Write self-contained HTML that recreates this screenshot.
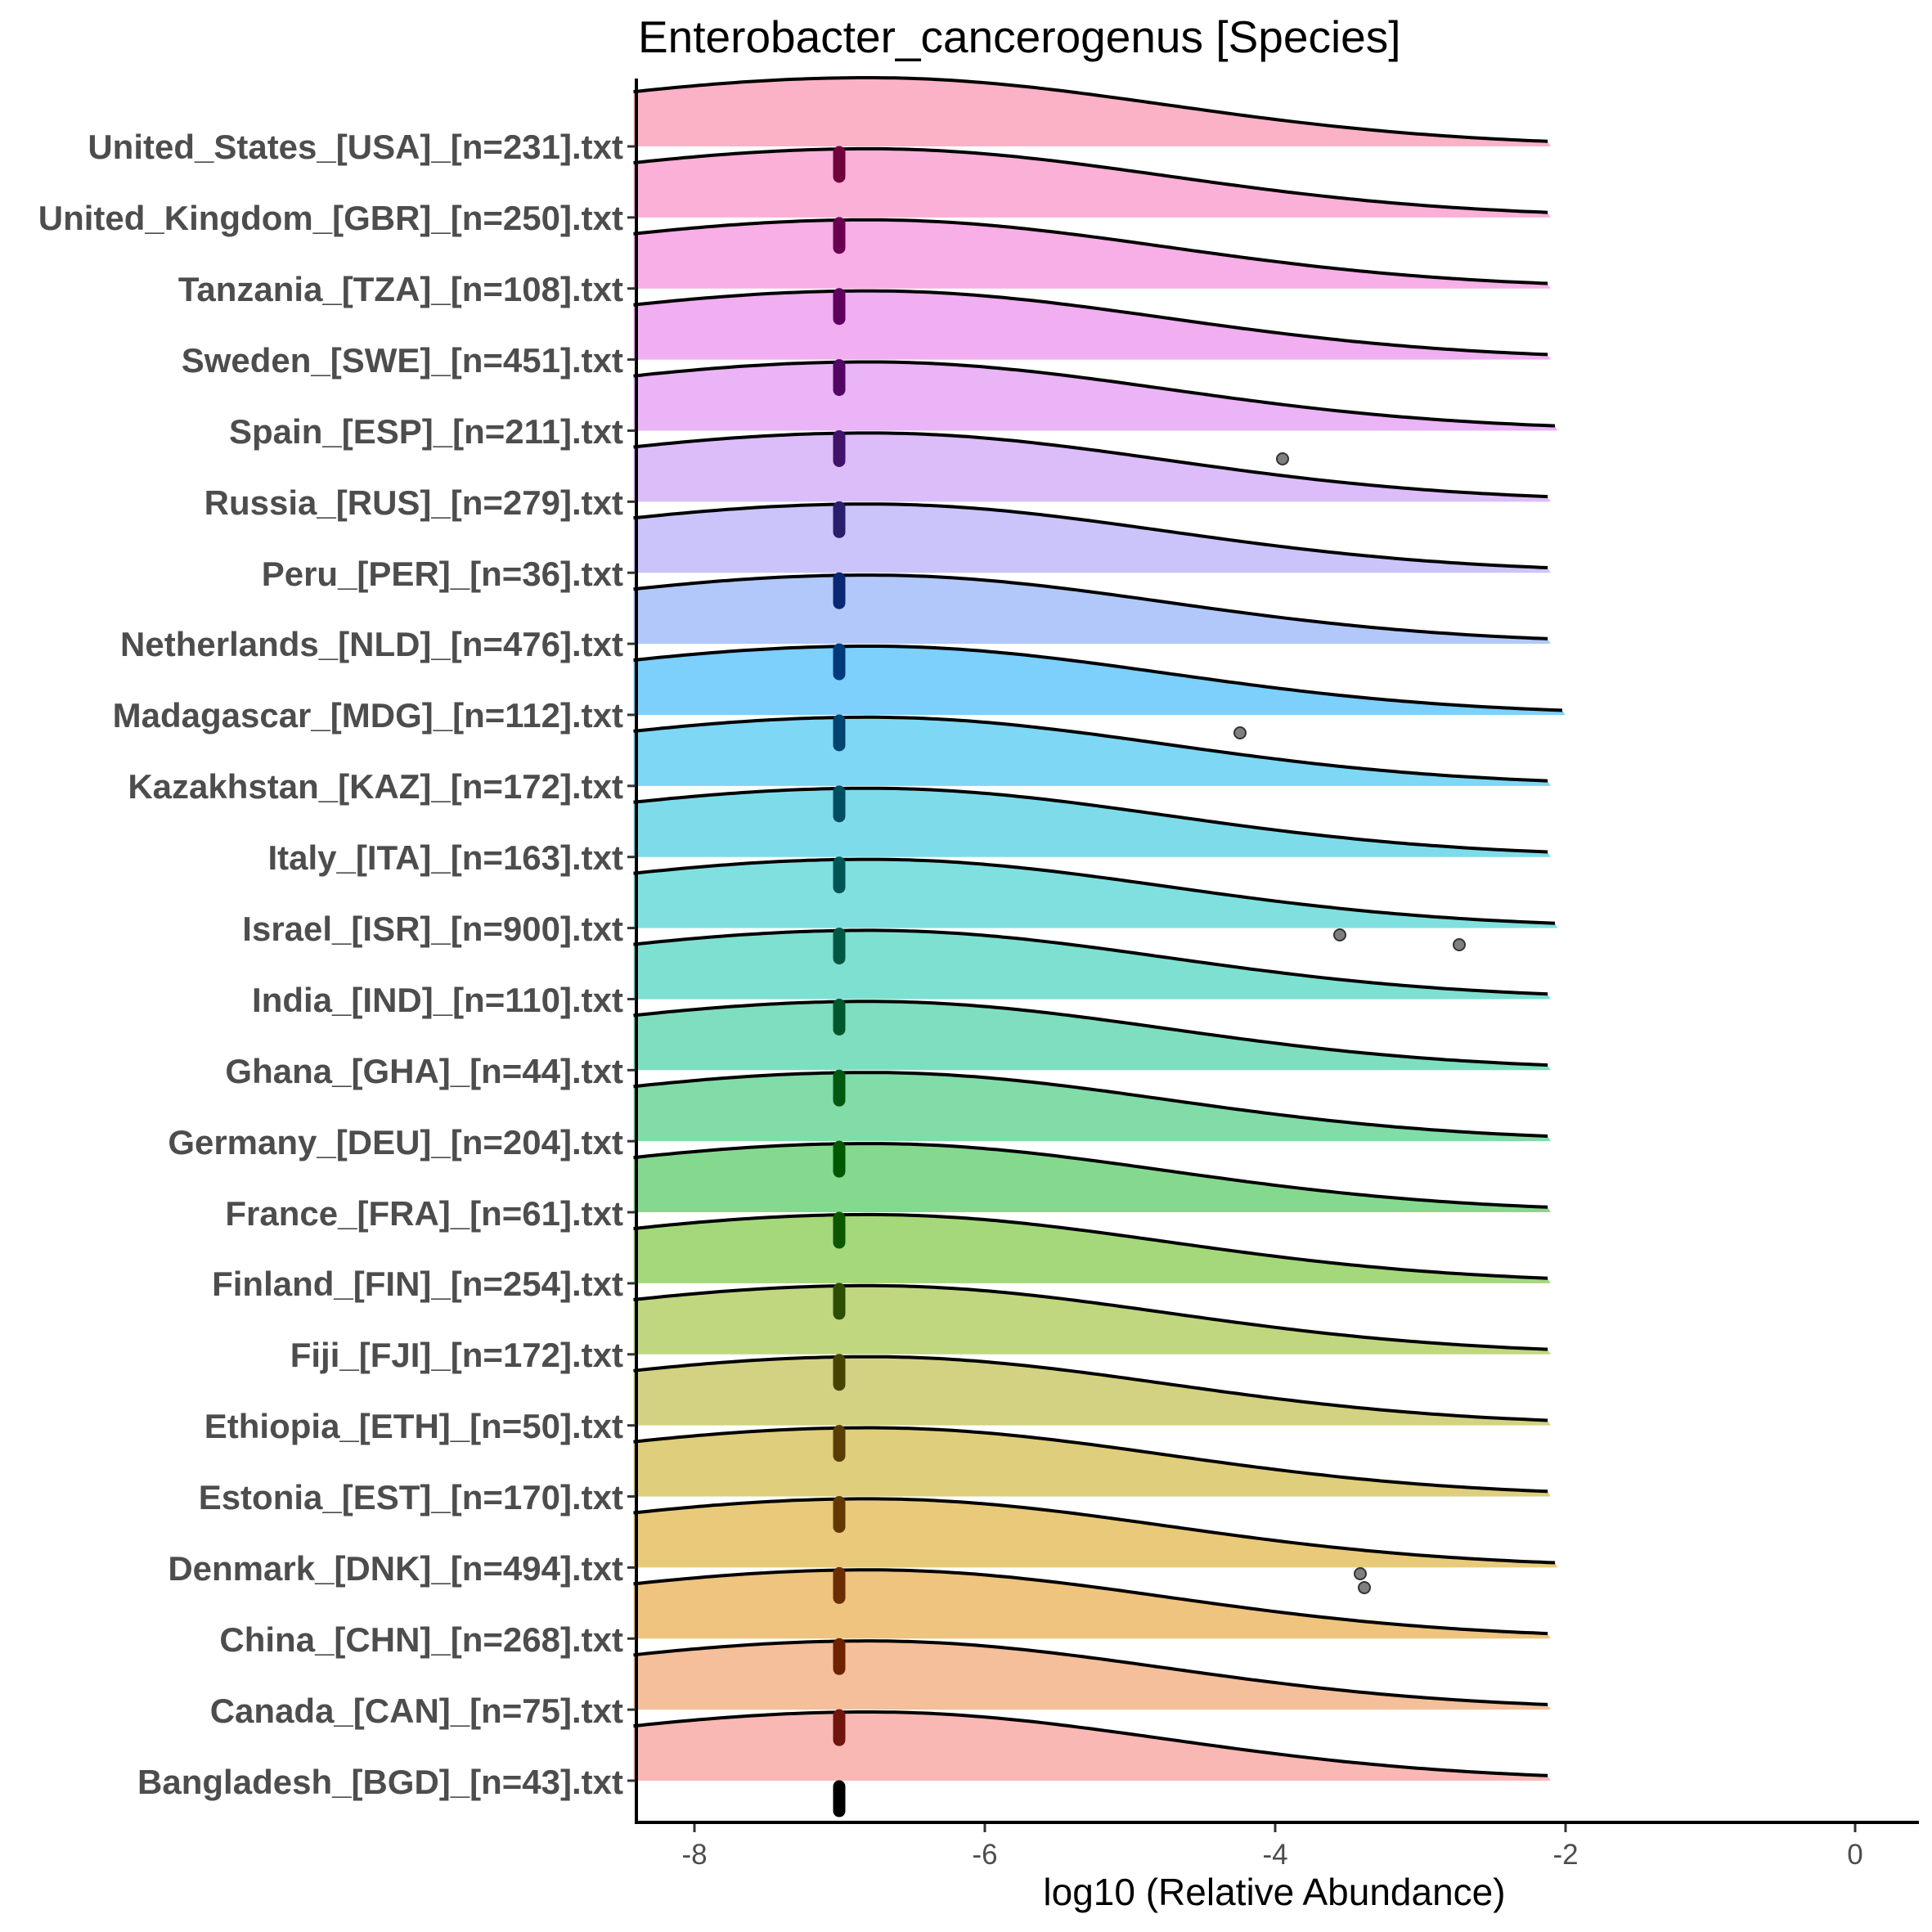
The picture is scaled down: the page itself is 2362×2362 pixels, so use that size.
<!DOCTYPE html>
<html><head><meta charset="utf-8">
<style>
html,body{margin:0;padding:0;background:#fff;}
svg{display:block;}
.yl{font-family:"Liberation Sans",Arial,sans-serif;font-weight:bold;font-size:42px;fill:#4d4d4d;text-anchor:end;}
.xl{font-family:"Liberation Sans",Arial,sans-serif;font-size:35px;fill:#4d4d4d;text-anchor:middle;}
</style></head>
<body>
<svg id="s" width="2362" height="2362" viewBox="0 0 2362 2362" xmlns="http://www.w3.org/2000/svg">
<rect width="2362" height="2362" fill="#fff"/>
<text x="780" y="64" font-family="Liberation Sans, Arial, sans-serif" font-size="55" fill="#000">Enterobacter_cancerogenus [Species]</text>
<g id="ridges"></g>
<g id="marks"></g>
<g fill="#7f7f7f" stroke="#333" stroke-width="2">
<circle cx="1568" cy="561" r="7"/>
<circle cx="1516" cy="896" r="7"/>
<circle cx="1638" cy="1143" r="7"/>
<circle cx="1784" cy="1155" r="7"/>
<circle cx="1663" cy="1924" r="7"/>
<circle cx="1668" cy="1941" r="7"/>
</g>
<line x1="778" y1="96" x2="778" y2="2230" stroke="#000" stroke-width="4"/>
<line x1="776" y1="2228" x2="2346" y2="2228" stroke="#000" stroke-width="4"/>
<g stroke="#333" stroke-width="3">
<line x1="849" y1="2230" x2="849" y2="2240"/><line x1="1204" y1="2230" x2="1204" y2="2240"/><line x1="1559" y1="2230" x2="1559" y2="2240"/><line x1="1914" y1="2230" x2="1914" y2="2240"/><line x1="2268" y1="2230" x2="2268" y2="2240"/>
</g>
<text class="xl" x="849" y="2279">-8</text>
<text class="xl" x="1204" y="2279">-6</text>
<text class="xl" x="1559" y="2279">-4</text>
<text class="xl" x="1914" y="2279">-2</text>
<text class="xl" x="2268" y="2279">0</text>
<text x="1558" y="2329" font-family="Liberation Sans, Arial, sans-serif" font-size="46" fill="#000" text-anchor="middle">log10 (Relative Abundance)</text>
<g id="ticks" stroke="#333" stroke-width="3"></g>
<g>
<text class="yl" x="762" y="194">United_States_[USA]_[n=231].txt</text>
<text class="yl" x="762" y="281">United_Kingdom_[GBR]_[n=250].txt</text>
<text class="yl" x="762" y="368">Tanzania_[TZA]_[n=108].txt</text>
<text class="yl" x="762" y="455">Sweden_[SWE]_[n=451].txt</text>
<text class="yl" x="762" y="542">Spain_[ESP]_[n=211].txt</text>
<text class="yl" x="762" y="629">Russia_[RUS]_[n=279].txt</text>
<text class="yl" x="762" y="716">Peru_[PER]_[n=36].txt</text>
<text class="yl" x="762" y="802">Netherlands_[NLD]_[n=476].txt</text>
<text class="yl" x="762" y="889">Madagascar_[MDG]_[n=112].txt</text>
<text class="yl" x="762" y="976">Kazakhstan_[KAZ]_[n=172].txt</text>
<text class="yl" x="762" y="1063">Italy_[ITA]_[n=163].txt</text>
<text class="yl" x="762" y="1150">Israel_[ISR]_[n=900].txt</text>
<text class="yl" x="762" y="1237">India_[IND]_[n=110].txt</text>
<text class="yl" x="762" y="1324">Ghana_[GHA]_[n=44].txt</text>
<text class="yl" x="762" y="1411">Germany_[DEU]_[n=204].txt</text>
<text class="yl" x="762" y="1498">France_[FRA]_[n=61].txt</text>
<text class="yl" x="762" y="1584">Finland_[FIN]_[n=254].txt</text>
<text class="yl" x="762" y="1671">Fiji_[FJI]_[n=172].txt</text>
<text class="yl" x="762" y="1758">Ethiopia_[ETH]_[n=50].txt</text>
<text class="yl" x="762" y="1845">Estonia_[EST]_[n=170].txt</text>
<text class="yl" x="762" y="1932">Denmark_[DNK]_[n=494].txt</text>
<text class="yl" x="762" y="2019">China_[CHN]_[n=268].txt</text>
<text class="yl" x="762" y="2106">Canada_[CAN]_[n=75].txt</text>
<text class="yl" x="762" y="2193">Bangladesh_[BGD]_[n=43].txt</text>
</g>
</svg>
<script>
(function(){
var NS="http://www.w3.org/2000/svg";
var cols=["#FBB2C6","#FBB0D8","#F8AEE6","#F1AEF1","#EAB4F6","#DCBDFA","#CBC4FB","#B2C8FB","#7DCFFC","#7ED7F4","#7EDCEA","#80E0E0","#7EE0D1","#7FDEBF","#81DCA8","#85D98F","#A5D87A","#C0D780","#D3D282","#DFCE7B","#E8CA7A","#EEC47F","#F4BF9A","#F9B8B4"];
var ends=[-2.1,-2.1,-2.1,-2.1,-2.05,-2.1,-2.1,-2.1,-2.0,-2.1,-2.1,-2.05,-2.1,-2.1,-2.1,-2.1,-2.1,-2.1,-2.1,-2.1,-2.05,-2.1,-2.1,-2.1];
function X(v){return 849+(v+8)*177.4;}
function dark(c){
 var r=parseInt(c.substr(1,2),16),g=parseInt(c.substr(3,2),16),b=parseInt(c.substr(5,2),16);
 var m=(r+g+b)/3;
 function f(x){x=m+(x-m)*1.6;x=x-150;return Math.max(0,Math.min(255,Math.round(x*0.9)));}
 return "rgb("+f(r)+","+f(g)+","+f(b)+")";
}
var rg=document.getElementById("ridges"),mk=document.getElementById("marks"),tk=document.getElementById("ticks");
for(var i=0;i<24;i++){
 var b=179+i*86.87;
 var mu=-6.8,h=84;
 var pts=[];
 var x0=-8.42,x1=ends[i];
 for(var v=x0;v<=x1+1e-9;v+=0.05){
  var s=v<mu?2.4:2.05;
  var y=b-h*Math.exp(-(v-mu)*(v-mu)/(2*s*s));
  pts.push(X(v).toFixed(1)+","+y.toFixed(1));
 }
 var f=document.createElementNS(NS,"path");
 f.setAttribute("d","M"+X(x0).toFixed(1)+","+b+" L"+pts.join(" L")+" L"+X(x1).toFixed(1)+","+b+" Z");
 f.setAttribute("fill",cols[i]);
 rg.appendChild(f);
 var l=document.createElementNS(NS,"path");
 l.setAttribute("d","M"+pts.join(" L"));
 l.setAttribute("fill","none");l.setAttribute("stroke","#000");l.setAttribute("stroke-width","4");
 rg.appendChild(l);
 var m=document.createElementNS(NS,"line");
 m.setAttribute("x1",1026);m.setAttribute("x2",1026);
 m.setAttribute("y1",b+7);m.setAttribute("y2",b+37);
 m.setAttribute("stroke",i==23?"#000":dark(cols[i+1]));
 m.setAttribute("stroke-width","15");m.setAttribute("stroke-linecap","round");
 mk.appendChild(m);
 var t=document.createElementNS(NS,"line");
 t.setAttribute("x1",767);t.setAttribute("x2",777);t.setAttribute("y1",b);t.setAttribute("y2",b);
 tk.appendChild(t);
}
})();
</script>
</body></html>
